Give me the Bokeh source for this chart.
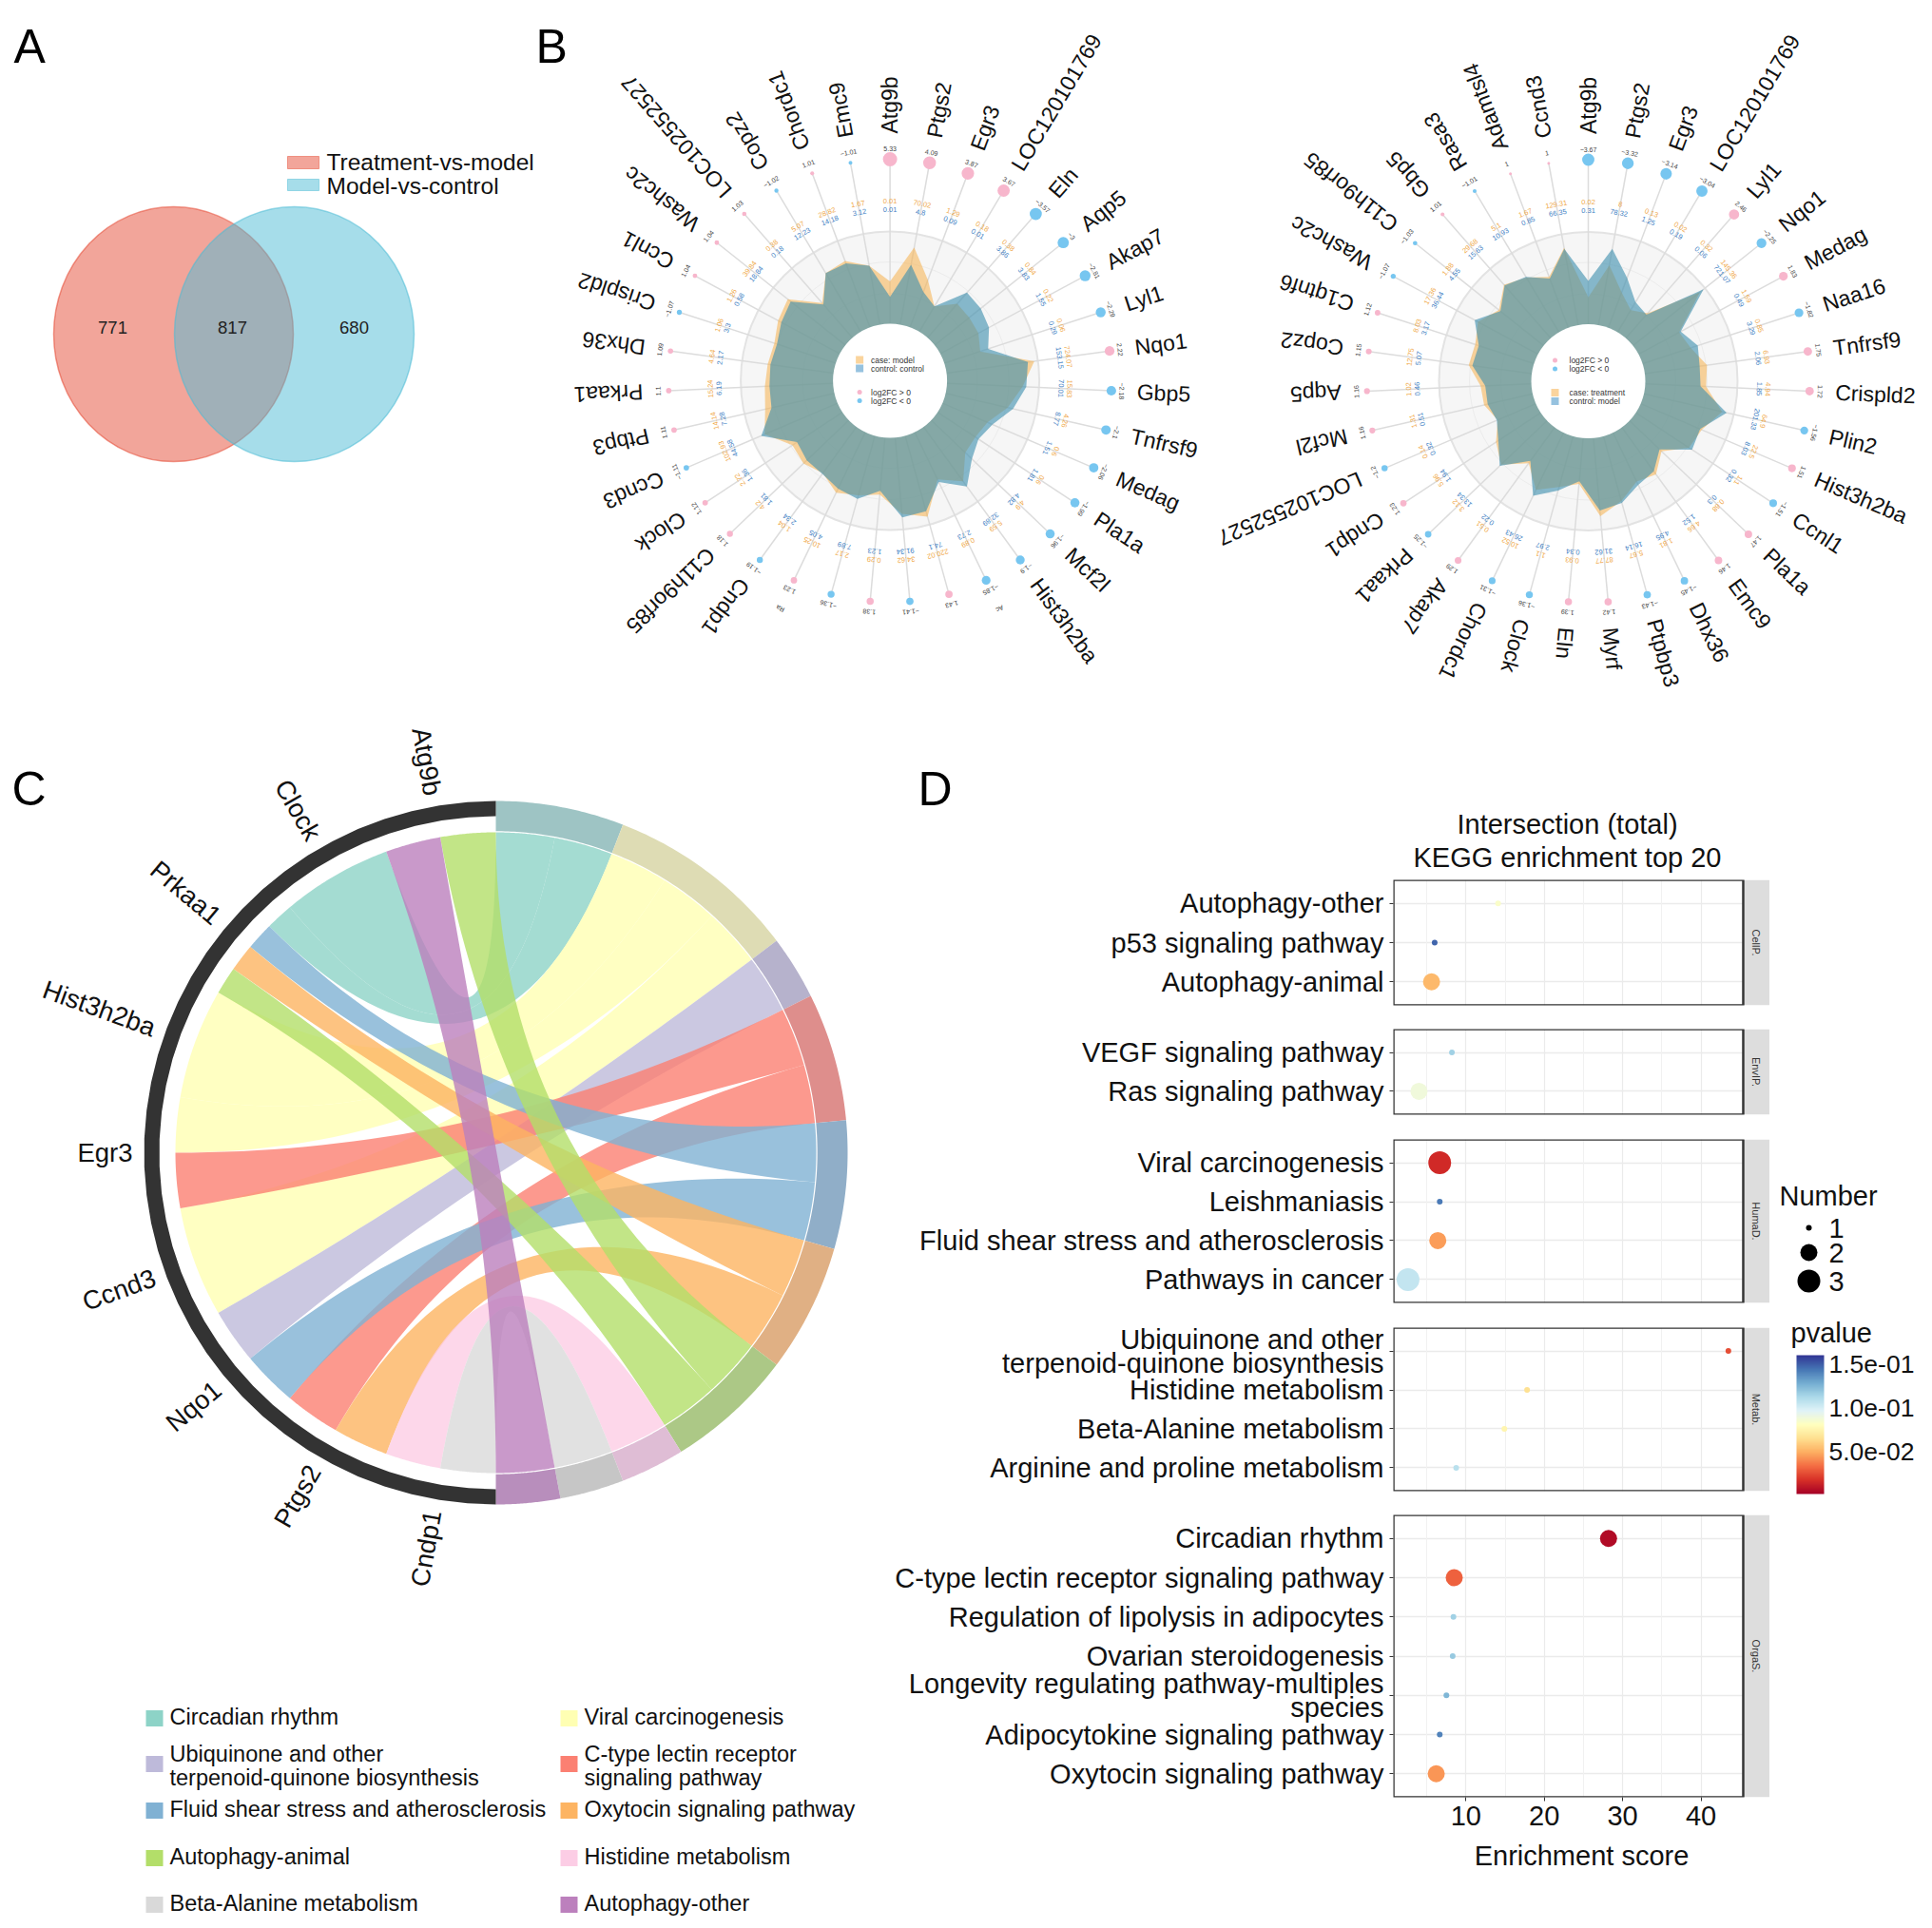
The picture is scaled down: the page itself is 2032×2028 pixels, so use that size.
import numpy as np
from bokeh.core.properties import value
from bokeh.embed import file_html
from bokeh.layouts import column, row
from bokeh.models import (BoxAnnotation, ColorBar, ColumnDataSource, FixedTicker, Grid,
                          LinearColorMapper, Range1d)
from bokeh.plotting import figure
from bokeh.resources import INLINE

FONT = "Liberation Sans"

# ---------- Panel A ----------
venn_sets = ["Treatment-vs-model", "Model-vs-control"]
venn_counts = ["771", "817", "680"]

# ---------- Panel B, left radar ----------
genes_left = ["Atg9b", "Ptgs2", "Egr3", "LOC120101769", "Eln", "Aqp5", "Akap7", "Lyl1", "Nqo1", "Gbp5", "Tnfrsf9",
              "Medag", "Pla1a", "Mcf2l", "Hist3h2ba", "", "", "", "", "", "", "Cndp1", "C11h9orf85", "Clock", "Ccnd3",
              "Ptbp3", "Prkaa1", "Dhx36", "Crispld2", "Ccnl1", "Washc2c", "LOC102552527", "Copz2", "Chordc1", "Emc9"]
fc_left = [5.33, 4.09, 3.87, 3.67, -3.57, -3, -2.81, -2.29, 2.22, -2.18, -2.1, -2.06, -1.99, -1.96, -1.9, -1.85, 1.43,
           -1.41, 1.38, -1.36, 1.23, -1.19, 1.18, 1.12, -1.11, 1.11, 1.1, 1.09, -1.07, 1.04, 1.04, 1.03, -1.02, 1.01, -1.01]
case_left = [.46, .85, .55, .32, .49, .48, .47, .41, .96, .82, .69, .53, .49, .51, .73, .57, .91, .83, .62, .67, .73,
             .62, .68, .65, .86, .77, .74, .72, .70, .76, .80, .50, .74, .77, .65]
control_left = [.29, .66, .41, .32, .65, .64, .60, .50, .89, .86, .75, .59, .53, .61, .80, .60, .85, .87, .58, .71, .68,
                .63, .63, .59, .90, .70, .69, .69, .67, .72, .76, .48, .74, .74, .65]
case_text_left = ["0.01", "70.02", "1.29", "0.18", "0.38", "0.84", "0.22", "0.06", "724.07", "15.83", "4.26", "0.6",
                  "0.6", "4.9", "5.59", "0.89", "220.02", "34.62", "0.29", "2.17", "10.25", "1.04", "4.2", "2.72",
                  "102.93", "14.14", "15.24", "4.64", "1.06", "1.26", "39.84", "0.38", "5.07", "28.82", "1.67"]
control_text_left = ["0.01", "4.8", "0.09", "0.01", "3.86", "3.83", "1.55", "0.29", "153.15", "70.01", "8.77", "1.51",
                     "1.81", "4.82", "32.89", "2.73", "74.1", "91.34", "1.23", "7.89", "4.05", "2.34", "1.81", "1.36",
                     "44.58", "7.28", "6.19", "2.17", "3.3", "0.58", "18.84", "0.18", "12.23", "14.18", "3.12"]
small_genes_left = {15: "Ac", 20: "Ra"}

# ---------- Panel B, right radar ----------
genes_right = ["Atg9b", "Ptgs2", "Egr3", "LOC120101769", "Lyl1", "Nqo1", "Medag", "Naa16", "Tnfrsf9", "Crispld2", "Plin2",
               "Hist3h2ba", "Ccnl1", "Pla1a", "Emc9", "Dhx36", "Ptpbp3", "Myrf", "Eln", "Clock", "Chordc1", "Akap7",
               "Prkaa1", "Cndp1", "LOC102552527", "Mcf2l", "Aqp5", "Copz2", "C1qtnf6", "Washc2c", "C11h9orf85", "Gbp5",
               "Rasa3", "Adamtsl4", "Ccnd3"]
fc_right = [-3.67, -3.32, -3.14, -3.04, 2.46, -2.25, 1.83, -1.82, 1.75, 1.72, -1.56, 1.51, -1.51, 1.47, 1.46, -1.45,
            -1.43, 1.42, 1.39, -1.36, -1.31, 1.29, -1.25, 1.23, -1.2, 1.16, 1.16, 1.15, 1.12, -1.07, -1.03, 1.01, -1.01, 1, 1]
case_right = [.29, .66, .41, .28, .36, .93, .50, .55, .68, .66, .87, .72, .69, .48, .63, .59, .73, .85, .50, .57, .69,
              .48, .69, .58, .45, .54, .55, .69, .67, .74, .62, .77, .69, .59, .85]
control_right = [.47, .84, .58, .38, .34, .98, .52, .63, .60, .60, .92, .70, .73, .45, .59, .63, .75, .79, .47, .61, .76,
                 .45, .71, .55, .46, .50, .50, .65, .63, .78, .60, .76, .70, .57, .84]
case_text_right = ["0.02", "8", "0.13", "0.02", "0.32", "145.36", "1.59", "0.85", "6.93", "4.94", "64.9", "22.5", "1.1",
                   "0.68", "4.66", "1.81", "5.67", "87.77", "0.93", "1.1", "10.52", "0.51", "3.12", "5.96", "0.14",
                   "1.31", "1.02", "12.75", "8.03", "17.36", "1.88", "29.68", "5.1", "1.67", "129.31"]
control_text_right = ["0.31", "78.32", "1.25", "0.19", "0.06", "721.07", "0.49", "3.29", "2.06", "1.85", "201.33", "8.03",
                      "0.32", "0.3", "1.52", "4.95", "16.14", "31.62", "0.34", "2.97", "26.43", "0.22", "13.34", "1.94",
                      "0.32", "0.51", "0.46", "5.07", "3.17", "36.44", "4.55", "15.63", "10.93", "0.85", "66.35"]

# ---------- Panel C ----------
chord_genes = ["Atg9b", "Clock", "Prkaa1", "Hist3h2ba", "Egr3", "Ccnd3", "Nqo1", "Ptgs2", "Cndp1"]
chord_pathways = ["Circadian rhythm", "Viral carcinogenesis", "Ubiquinone and other\nterpenoid-quinone biosynthesis",
                  "C-type lectin receptor\nsignaling pathway", "Fluid shear stress and atherosclerosis",
                  "Oxytocin signaling pathway", "Autophagy-animal", "Histidine metabolism", "Beta-Alanine metabolism",
                  "Autophagy-other"]
chord_colors = ["#8DD3C7", "#FFFFB3", "#BEBADA", "#FB8072", "#80B1D3", "#FDB462", "#B3DE69", "#FCCDE5", "#D9D9D9", "#BC80BD"]
band_colors = ["#9EC4C4", "#DEDCB4", "#B6B2CC", "#DE8E8C", "#90AEC8", "#E0B084", "#ACC886", "#DFBDD5", "#C6C6C6", "#B88EBC"]
chord_links = [("Atg9b", 6), ("Atg9b", 9), ("Clock", 0), ("Prkaa1", 0), ("Prkaa1", 4), ("Prkaa1", 5), ("Prkaa1", 6),
               ("Hist3h2ba", 1), ("Egr3", 1), ("Egr3", 3), ("Ccnd3", 1), ("Nqo1", 2), ("Nqo1", 4), ("Ptgs2", 3),
               ("Ptgs2", 5), ("Cndp1", 7), ("Cndp1", 8)]

# ---------- Panel D ----------
cellp_terms = ["Autophagy-other", "p53 signaling pathway", "Autophagy-animal"]
cellp_score = [14.1, 6.0, 5.6]
cellp_number = [1, 1, 2]
cellp_p = [0.083, 0.148, 0.052]
envip_terms = ["VEGF signaling pathway", "Ras signaling pathway"]
envip_score = [8.2, 4.0]
envip_number = [1, 2]
envip_p = [0.115, 0.088]
humad_terms = ["Viral carcinogenesis", "Leishmaniasis", "Fluid shear stress and atherosclerosis", "Pathways in cancer"]
humad_score = [6.65, 6.65, 6.4, 2.6]
humad_number = [3, 1, 2, 3]
humad_p = [0.015, 0.142, 0.045, 0.105]
metab_terms = ["Ubiquinone and other\nterpenoid-quinone biosynthesis", "Histidine metabolism", "Beta-Alanine metabolism",
               "Arginine and proline metabolism"]
metab_score = [43.5, 17.8, 14.9, 8.75]
metab_number = [1, 1, 1, 1]
metab_p = [0.025, 0.065, 0.075, 0.108]
orgas_terms = ["Circadian rhythm", "C-type lectin receptor signaling pathway", "Regulation of lipolysis in adipocytes",
               "Ovarian steroidogenesis", "Longevity regulating pathway-multiples\nspecies",
               "Adipocytokine signaling pathway", "Oxytocin signaling pathway"]
orgas_score = [28.2, 8.5, 8.4, 8.3, 7.5, 6.65, 6.2]
orgas_number = [2, 2, 1, 1, 1, 1, 2]
orgas_p = [0.005, 0.03, 0.115, 0.118, 0.125, 0.14, 0.043]
number_levels = [1, 2, 3]
number_sizes = {1: 6, 2: 18, 3: 24}
p_ticks = [0.05, 0.10, 0.15]
p_tick_labels = {0.05: "5.0e-02", 0.10: "1.0e-01", 0.15: "1.5e-01"}

rdylbu = ["#A50026", "#D73027", "#F46D43", "#FDAE61", "#FEE090", "#FFFFBF", "#E0F3F8", "#ABD9E9", "#74ADD1", "#4575B4", "#313695"]
rgb = np.array([[int(c[i:i + 2], 16) for i in (1, 3, 5)] for c in rdylbu], float)
t = np.linspace(0, 10, 256)
palette = ["#%02x%02x%02x" % tuple(int(round(np.interp(v, np.arange(11), rgb[:, k]))) for k in range(3)) for v in t]
mapper = LinearColorMapper(palette=palette, low=0.001, high=0.16)


def canvas(w, h, x0, x1, y_top, y_bot):
    p = figure(width=w, height=h, x_range=Range1d(x0, x1), y_range=Range1d(y_bot, y_top), x_axis_location=None,
               y_axis_location=None, toolbar_location=None, output_backend="svg", min_border=0, outline_line_color=None)
    p.grid.visible = False
    p.background_fill_color = None
    return p


def text(p, xs, ys, texts, size, color="#111111", align="left", base="middle", angles=None):
    n = len(texts)
    src = ColumnDataSource(dict(x=list(xs), y=list(ys), t=list(texts), a=list(angles) if angles is not None else [0.0] * n))
    p.text("x", "y", text="t", angle="a", source=src, text_font=value(FONT), text_font_size=size, text_color=color,
           text_align=align, text_baseline=base)


# ---------- top: A + B ----------
top = canvas(2024, 745, 0, 2024, 0, 745)
text(top, [14, 563], [48, 48], ["A", "B"], "50px", "#000000")
vx = [182, 309]
top.ellipse(vx, [351, 351], width=252, height=268, fill_color=["#E64B35", "#4DBBD5"], fill_alpha=0.5,
            line_color=["#E64B35", "#4DBBD5"], line_alpha=0.55, line_width=1.5)
top.quad(left=[302, 302], right=[335, 335], top=[164, 188], bottom=[177, 200], fill_color=["#E64B35", "#4DBBD5"],
         fill_alpha=0.5, line_color=["#E64B35", "#4DBBD5"], line_alpha=0.5)
text(top, [343, 343], [170, 195], venn_sets, "24.5px", "#111111")
text(top, [118, 244, 372], [344, 344, 344], venn_counts, "18.5px", "#222222", "center")

R_IN, R_OUT, R_DOT, R_FC, R_GENE = 60.0, 157.0, 233.0, 244.0, 260.0
R_CASE, R_CTRL = 189.0, 180.0


def radar(p, cx, cy, genes, fc, case, control, case_txt, control_txt, left_leg, small=None):
    n = len(genes)
    th = np.arange(n) * 2 * np.pi / n
    s, c = np.sin(th), np.cos(th)
    p.circle([cx], [cy], radius=R_OUT, fill_color="#f6f6f6", line_color="#e3e3e3", line_width=2)
    for ring, col in ((125, "#ececec"), (92, "#ececec")):
        p.circle([cx], [cy], radius=ring, fill_color=None, line_color=col, line_width=1)
    p.segment(cx + R_IN * s, cy - R_IN * c, cx + R_DOT * s, cy - R_DOT * c, line_color="#dcdcdc", line_width=1.5)
    rc = R_IN + (R_OUT - R_IN) * np.array(case)
    rb = R_IN + (R_OUT - R_IN) * np.array(control)
    p.patch(cx + rc * s, cy - rc * c, fill_color="#F5B04C", fill_alpha=0.55, line_color=None)
    p.patch(cx + rb * s, cy - rb * c, fill_color="#3F8FAE", fill_alpha=0.62, line_color=None)
    p.circle([cx], [cy], radius=R_IN, fill_color="#ffffff", line_color=None)
    fca = np.abs(np.array(fc, float))
    sizes = 3 + 12 * (np.clip(fca - 1, 0, None) / 4.33) ** 0.4
    cols = ["#F7B6CC" if v > 0 else "#77C6F0" for v in fc]
    p.scatter(cx + R_DOT * s, cy - R_DOT * c, size=sizes, fill_color=cols, line_color=None)
    text(p, cx + R_FC * s, cy - R_FC * c, [("%g" % v).replace("-", "\u2212") for v in fc], "7px", "#444444", "center",
         "middle", -th)
    text(p, cx + R_CASE * s, cy - R_CASE * c, case_txt, "7.5px", "#F0A94A", "center", "middle", -th)
    text(p, cx + R_CTRL * s, cy - R_CTRL * c, control_txt, "7.5px", "#3F7FC4", "center", "middle", -th)
    text(p, cx + R_GENE * s, cy - R_GENE * c, genes, "23px", "#111111", "left", "middle", np.pi / 2 - th)
    if small:
        idx = list(small)
        text(p, [cx + 266 * s[i] for i in idx], [cy - 266 * c[i] for i in idx], [small[i] for i in idx], "7px", "#333333",
             "center", "middle", [-th[i] for i in idx])
    sq_y, dot_y = (-22, -13), (12, 21)
    if left_leg:
        lab = ["case: model", "control: control", "log2FC > 0", "log2FC < 0"]
        sq, dt = sq_y, dot_y
        lx = -32
    else:
        lab = ["case: treatment", "control: model", "log2FC > 0", "log2FC < 0"]
        sq, dt = dot_y, sq_y
        lx = -35
    p.scatter([cx + lx] * 2, [cy + sq[0], cy + sq[1]], size=8, marker="square", fill_color=["#F5B04C", "#3F8FC4"],
              fill_alpha=0.55, line_color=None)
    p.scatter([cx + lx] * 2, [cy + dt[0], cy + dt[1]], size=5, fill_color=["#F7B6CC", "#77C6F0"], line_color=None)
    ys = [cy + sq[0], cy + sq[1], cy + dt[0], cy + dt[1]]
    text(p, [cx - 20] * 4, ys, lab, "8.5px", "#333333")


radar(top, 935.6, 400, genes_left, fc_left, case_left, control_left, case_text_left, control_text_left, True, small_genes_left)
radar(top, 1670, 400.5, genes_right, fc_right, case_right, control_right, case_text_right, control_text_right, False)

# ---------- bottom left: C ----------
left = canvas(915, 1273, 0, 915, 745, 2018)
text(left, [12], [829], ["C"], "50px", "#000000")
CX, CY, R_C, R_B0, R_B1, R_D0 = 521.0, 1212.0, 337.0, 338.2, 370.0, 354.0


def arc(r, a0, a1, side):
    a = np.radians(np.linspace(a0, a1, 40))
    return CX + side * r * np.sin(a), CY - r * np.cos(a)


def bez(p0, p1):
    u = np.linspace(0, 1, 40)
    x = (1 - u) ** 2 * p0[0] + 2 * u * (1 - u) * CX + u ** 2 * p1[0]
    y = (1 - u) ** 2 * p0[1] + 2 * u * (1 - u) * CY + u ** 2 * p1[1]
    return x, y


n_links = len(chord_links)
path_counts = [sum(1 for _, k in chord_links if k == i) for i in range(len(chord_pathways))]
path_edges = np.concatenate([[0], np.cumsum(path_counts)]) * 180.0 / n_links
gene_step = 180.0 / len(chord_genes)
gene_used = {g: 0 for g in chord_genes}
path_used = [0] * len(chord_pathways)
ribbons = []
for g, k in chord_links:
    gi = chord_genes.index(g)
    gn = sum(1 for a, _ in chord_links if a == g)
    g0 = gi * gene_step + gene_used[g] * gene_step / gn
    g1 = g0 + gene_step / gn
    gene_used[g] += 1
    pw = 180.0 / n_links
    p0 = path_edges[k] + path_used[k] * pw
    p1 = p0 + pw
    path_used[k] += 1
    ribbons.append((k, g0, g1, p0, p1))
xs, ys, cols = [], [], []
for k, g0, g1, p0, p1 in sorted(ribbons, key=lambda r: r[0]):
    ax, ay = arc(R_C, p0, p1, 1)
    gx, gy = arc(R_C, g1, g0, -1)
    b1x, b1y = bez((ax[-1], ay[-1]), (gx[0], gy[0]))
    b2x, b2y = bez((gx[-1], gy[-1]), (ax[0], ay[0]))
    xs.append(np.concatenate([ax, b1x, gx, b2x]).tolist())
    ys.append(np.concatenate([ay, b1y, gy, b2y]).tolist())
    cols.append(chord_colors[k])
left.patches(xs, ys, fill_color=cols, fill_alpha=0.8, line_color=None)
bx, by = [], []
for i in range(len(chord_pathways)):
    o = arc(R_B1, path_edges[i], path_edges[i + 1], 1)
    n = arc(R_B0, path_edges[i + 1], path_edges[i], 1)
    bx.append(np.concatenate([o[0], n[0]]).tolist())
    by.append(np.concatenate([o[1], n[1]]).tolist())
left.patches(bx, by, fill_color=band_colors, line_color=None)
o = arc(R_B1, 0, 180, -1)
n = arc(R_D0, 180, 0, -1)
left.patch(np.concatenate([o[0], n[0]]), np.concatenate([o[1], n[1]]), fill_color="#333333", line_color=None)
phi = (np.arange(len(chord_genes)) + 0.5) * gene_step
text(left, CX - 382 * np.sin(np.radians(phi)), CY - 382 * np.cos(np.radians(phi)), chord_genes, "27.5px", "#111111", "right",
     "middle", np.radians(phi - 90))
leg_x = [153, 589]
leg_rows = [1807, 1855, 1904, 1954, 2003]
lx, ly, lt, lsx, lsy, lsc = [], [], [], [], [], []
for i, name in enumerate(chord_pathways):
    x0 = leg_x[i % 2]
    y0 = leg_rows[i // 2]
    lsx.append(x0 + 9)
    lsy.append(y0)
    lsc.append(chord_colors[i])
    parts = name.split("\n")
    for j, s in enumerate(parts):
        lx.append(x0 + 25)
        ly.append(y0 + (j - (len(parts) - 1) / 2) * 25 + (2 if len(parts) > 1 else -2))
        lt.append(s)
left.rect(lsx, lsy, width=18, height=17, fill_color=lsc, line_color=None)
text(left, lx, ly, lt, "23.5px", "#111111")

# ---------- bottom right: D ----------
header = figure(width=946, height=175, x_range=Range1d(1465, 1861), y_range=Range1d(920, 745), x_axis_location=None,
                y_axis_location="left", toolbar_location=None, output_backend="svg", min_border_left=550,
                min_border_right=0, min_border_top=0, min_border_bottom=0, outline_line_color=None)
header.grid.visible = False
text(header, [1648, 1648], [866, 901], ["Intersection (total)", "KEGG enrichment top 20"], "29px", "#111111", "center")
hax = header.yaxis[0]
hax.ticker = FixedTicker(ticks=[829])
hax.major_label_overrides = {829: "D"}
hax.axis_line_color = None
hax.major_tick_line_color = None
hax.minor_tick_line_color = None
hax.major_tick_in = 0
hax.major_tick_out = 0
hax.major_label_standoff = 464
hax.major_label_text_font = FONT
hax.major_label_text_font_size = "50px"
hax.major_label_text_color = "#000000"

X0, X_SPLIT, X1 = 0.73, 45.4, 48.8


def panel(terms, score, number, pval, strip, b_top, b_frame, b_bot, last=False):
    n = len(terms)
    y0, y1 = -0.6, n - 0.4
    ypos = [n - 1 - i for i in range(n)]
    p = figure(width=946, height=b_top + b_frame + b_bot, x_range=Range1d(X0, X1), y_range=Range1d(y0, y1),
               x_axis_location="below" if last else None, toolbar_location=None, output_backend="svg",
               min_border_left=550, min_border_right=0, min_border_top=b_top, min_border_bottom=b_bot,
               outline_line_color=None)
    p.xgrid.visible = False
    p.add_layout(Grid(dimension=0, ticker=FixedTicker(ticks=[10, 20, 30, 40], minor_ticks=[5, 15, 25, 35]),
                      grid_line_color="#ebebeb", minor_grid_line_color="#f1f1f1", grid_line_width=1.2,
                      minor_grid_line_width=1))
    p.ygrid.grid_line_color = "#ebebeb"
    p.ygrid.grid_line_width = 1.5
    p.quad(left=[X_SPLIT + 0.15], right=[X1], bottom=[y0], top=[y1], fill_color="#dddddd", line_color=None)
    p.quad(left=[X_SPLIT], right=[X_SPLIT + 0.15], bottom=[y0], top=[y1], fill_color="#ffffff", line_color=None)
    p.text([(X_SPLIT + X1) / 2], [(y0 + y1) / 2], text=[strip], angle=[-np.pi / 2], text_font=value(FONT),
           text_font_size="11px", text_color="#333333", text_align="center", text_baseline="middle")
    src = ColumnDataSource(dict(y=ypos, s=score, size=[number_sizes[v] for v in number], p=pval))
    p.scatter("s", "y", size="size", source=src, line_color=None, fill_color={"field": "p", "transform": mapper})
    p.add_layout(BoxAnnotation(left=X0, right=X_SPLIT, bottom=y0, top=y1, fill_alpha=0,
                               line_color="#333333", line_width=2.5, line_alpha=1, level="overlay"))
    ax = p.yaxis[0]
    ax.ticker = FixedTicker(ticks=ypos)
    ax.major_label_overrides = {y: term for y, term in zip(ypos, terms)}
    ax.axis_line_color = None
    ax.major_tick_line_color = "#333333"
    ax.major_tick_in = 0
    ax.major_tick_out = 4
    ax.minor_tick_line_color = None
    ax.major_label_text_font = FONT
    ax.major_label_text_font_size = "29px"
    ax.major_label_text_color = "#111111"
    ax.major_label_standoff = 6
    ax.major_label_text_line_height = 0.78
    if last:
        xa = p.xaxis[0]
        xa.ticker = FixedTicker(ticks=[10, 20, 30, 40])
        xa.axis_line_color = None
        xa.major_tick_line_color = "#333333"
        xa.major_tick_in = 0
        xa.major_tick_out = 4
        xa.minor_tick_line_color = None
        xa.major_label_text_font = FONT
        xa.major_label_text_font_size = "29px"
        xa.major_label_text_color = "#111111"
        xa.major_label_standoff = 5
        xa.axis_label = "Enrichment score"
        xa.axis_label_text_font = FONT
        xa.axis_label_text_font_size = "29px"
        xa.axis_label_text_font_style = "normal"
        xa.axis_label_text_color = "#111111"
        xa.axis_label_standoff = 13
    return p


p1 = panel(cellp_terms, cellp_score, cellp_number, cellp_p, "CellP.", 5, 132, 13)
p2 = panel(envip_terms, envip_score, envip_number, envip_p, "EnvIP.", 12, 90, 13)
p3 = panel(humad_terms, humad_score, humad_number, humad_p, "HumaD.", 13, 172, 13)
p4 = panel(metab_terms, metab_score, metab_number, metab_p, "Metab.", 13, 172, 12)
p5 = panel(orgas_terms, orgas_score, orgas_number, orgas_p, "OrgaS.", 13, 297, 128, last=True)

# ---------- legends of D ----------
leg = canvas(163, 1273, 1861, 2024, 745, 2018)
text(leg, [1871], [1257], ["Number"], "29px")
ny = [1291, 1317, 1347]
leg.scatter([1902] * 3, ny, size=[number_sizes[v] for v in number_levels], fill_color="#000000", line_color=None)
text(leg, [1923] * 3, ny, [str(v) for v in number_levels], "29px")
text(leg, [1883], [1401], ["pvalue"], "29px")
cb = ColorBar(color_mapper=mapper, ticker=FixedTicker(ticks=p_ticks), major_label_overrides=p_tick_labels,
              location=(28, 2018 - 1571), width=29, height=146, padding=0, margin=0, background_fill_alpha=0,
              bar_line_color=None, major_tick_line_color=None, label_standoff=5, major_label_text_font=FONT,
              major_label_text_font_size="26.5px", major_label_text_color="#111111")
leg.add_layout(cb)

page = column(top, row(left, column(header, p1, p2, p3, p4, p5), leg))
open("out.html", "w").write(file_html(page, INLINE))
